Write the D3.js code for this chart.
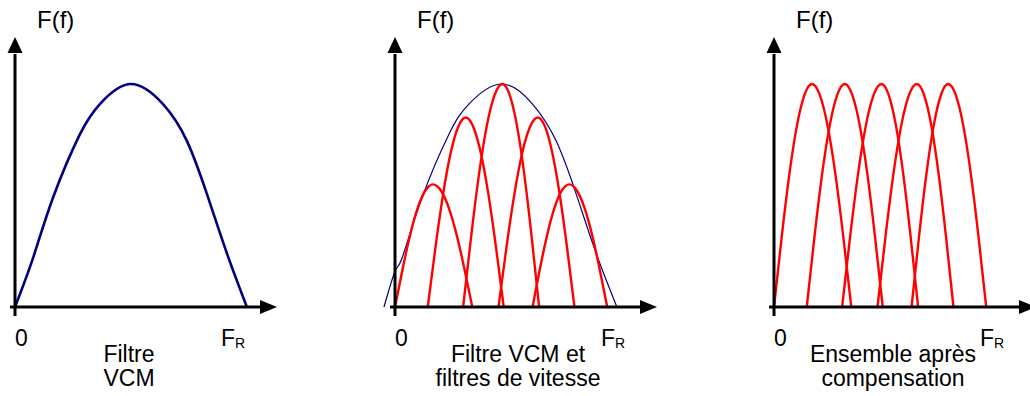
<!DOCTYPE html>
<html>
<head>
<meta charset="utf-8">
<script src="https://cdn.jsdelivr.net/npm/d3@7"></script>
<style>
  html, body { margin: 0; padding: 0; background: #fff; }
  svg { display: block; }
  text { font-family: "Liberation Sans", Arial, sans-serif; fill: #000; }
</style>
</head>
<body>
<svg id="chart" width="1030" height="396"></svg>
<script>
// ---- data ----
// frequency axis: 0..100 units (100 = arrow tip); amplitude axis: 0..100 (100 = VCM peak)
const vcmX = [0, 6.9, 14.5, 24.8, 32.4, 43.9, 56.5, 65.6, 73.3, 80.9, 88.5];
const vcmY = [0, 22, 49, 77.5, 91, 100, 91, 74.5, 50.5, 24, 0];

const envX = [-4.2, 0, 2.7, 10.3, 20.6, 28.2, 40.5, 52.5, 61.5, 69.2, 76.8, 84.7];
const envY = [0, 16, 22, 49, 77.5, 91, 100, 91, 74.5, 50.5, 24, 0];

const lobeStart = [0, 12.5, 26, 39.5, 52.5];
const lobePeak  = [14.5, 27, 41, 54.5, 66.5];
const lobeEnd   = [29.5, 41.5, 55, 68.5, 81];
const gainVitesse   = [55, 85, 100, 85, 55];
const gainCompense  = [100, 100, 100, 100, 100];

// normalised lobe profile (position along lobe 0..1, relative height)
const lobeProfileT = [0, 0.1, 0.2, 0.3, 0.4, 0.5, 0.6, 0.7, 0.8, 0.9, 1];
const lobeProfileH = [0, 0.31, 0.59, 0.81, 0.95, 1, 0.95, 0.81, 0.59, 0.31, 0];

const yLabel = "F(f)";
const xTickZero = "0";
const xTickFR = ["F", "R"];
const captions = [["Filtre", "VCM"], ["Filtre VCM et", "filtres de vitesse"], ["Ensemble après", "compensation"]];

// ---- layout ----
const panelOrigin = [15, 395, 774];
const captionCenter = [129, 518, 893];
const axisLen = 262, plotTop = 84, baseY = 307;

const svg = d3.select("#chart");
svg.append("rect").attr("width", 1030).attr("height", 396).attr("fill", "#fff");

function lobePoints(i, gain) {
  return lobeProfileT.map((t, k) => {
    const x = t <= 0.5
      ? lobeStart[i] + (t / 0.5) * (lobePeak[i] - lobeStart[i])
      : lobePeak[i] + ((t - 0.5) / 0.5) * (lobeEnd[i] - lobePeak[i]);
    return [x, gain[i] * lobeProfileH[k]];
  });
}

panelOrigin.forEach((ox, p) => {
  const x = d3.scaleLinear().domain([0, 100]).range([ox, ox + axisLen]);
  const y = d3.scaleLinear().domain([0, 100]).range([baseY, plotTop]);
  const g = svg.append("g");
  const line = d3.line().x(d => x(d[0])).y(d => y(d[1])).curve(d3.curveNatural);

  // curves
  if (p === 0) {
    g.append("path").attr("d", line(vcmX.map((v, i) => [v, vcmY[i]])))
      .attr("fill", "none").attr("stroke", "#000080").attr("stroke-width", 2.6);
  }
  if (p === 1) {
    g.append("path").attr("d", line(envX.map((v, i) => [v, envY[i]])))
      .attr("fill", "none").attr("stroke", "#000080").attr("stroke-width", 1.2);
  }
  if (p > 0) {
    const gain = p === 1 ? gainVitesse : gainCompense;
    lobeStart.forEach((_, i) => {
      g.append("path").attr("d", line(lobePoints(i, gain)))
        .attr("fill", "none").attr("stroke", "#ff0000").attr("stroke-width", 2.4);
    });
  }

  // axes
  const tipX = 100, baseArrowX = 93.5, tipY = 121.1, baseArrowY = 113.9;
  g.append("line").attr("x1", x(-1.9)).attr("x2", x(baseArrowX + 0.5))
    .attr("y1", y(0)).attr("y2", y(0)).attr("stroke", "#000").attr("stroke-width", 3);
  g.append("line").attr("x1", x(0)).attr("x2", x(0))
    .attr("y1", y(-4)).attr("y2", y(baseArrowY - 0.5)).attr("stroke", "#000").attr("stroke-width", 3);
  g.append("path").attr("d", `M${x(tipX)},${y(0)} L${x(baseArrowX)},${y(0) - 7} L${x(baseArrowX)},${y(0) + 7} Z`)
    .attr("fill", "#000");
  g.append("path").attr("d", `M${x(0)},${y(tipY)} L${x(0) - 7.5},${y(baseArrowY)} L${x(0) + 7.5},${y(baseArrowY)} Z`)
    .attr("fill", "#000");

  // labels
  g.append("text").attr("x", ox + 22).attr("y", 28).attr("font-size", 24).text(yLabel);
  g.append("text").attr("x", ox).attr("y", 346).attr("font-size", 23).text(xTickZero);
  const fr = g.append("text").attr("x", ox + 206).attr("y", 346).attr("font-size", 23);
  fr.append("tspan").text(xTickFR[0]);
  fr.append("tspan").attr("font-size", 14).attr("dy", 2).text(xTickFR[1]);

  captions[p].forEach((s, k) => {
    g.append("text").attr("x", captionCenter[p]).attr("y", [362, 386][k])
      .attr("text-anchor", "middle").attr("font-size", 23).text(s);
  });
});
</script>
</body>
</html>
